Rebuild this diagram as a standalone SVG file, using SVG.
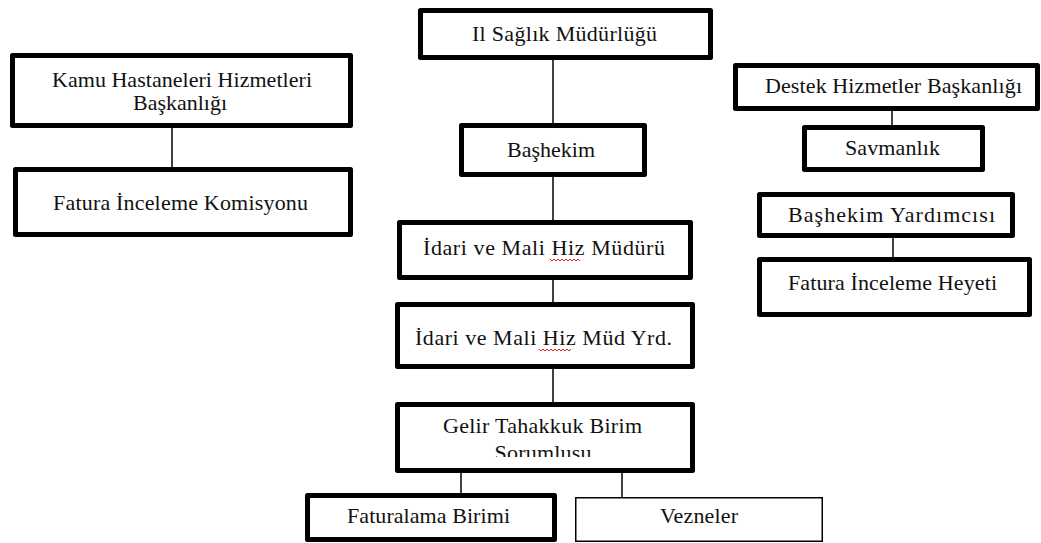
<svg xmlns="http://www.w3.org/2000/svg" width="1041" height="543" viewBox="0 0 1041 543">
<style>
.box{fill:#fff;stroke:#000;stroke-width:5;stroke-linejoin:round}
.thin{fill:#fff;stroke:#000;stroke-width:1.5}
.t{font-family:'Liberation Serif','DejaVu Serif',serif;font-size:22px;fill:#111;text-anchor:middle}
.c{stroke:#000;stroke-width:1.5;fill:none}
.sq{stroke:#e02020;stroke-width:1;fill:none}
</style>
<defs>
<clipPath id="gclip"><rect x="400" y="404" width="290" height="53"/></clipPath>
</defs>
<rect width="1041" height="543" fill="#fff"/>
<g id="connectors">
<line class="c" x1="172" y1="128" x2="172" y2="167"/>
<line class="c" x1="553" y1="60" x2="553" y2="123"/>
<line class="c" x1="553" y1="177" x2="553" y2="220"/>
<line class="c" x1="553" y1="280" x2="553" y2="302"/>
<line class="c" x1="553" y1="369" x2="553" y2="402"/>
<line class="c" x1="461" y1="467" x2="461" y2="493"/>
<line class="c" x1="622" y1="467" x2="622" y2="497"/>
<line class="c" x1="892" y1="111" x2="892" y2="125"/>
<line class="c" x1="893" y1="238" x2="893" y2="257"/>
</g>
<g id="il-saglik">
<rect class="box" x="420.5" y="10.5" width="290" height="47"/>
<text class="t" font-family="Liberation Serif, serif" x="564.5" y="41" textLength="185" lengthAdjust="spacing">Il Sağlık Müdürlüğü</text>
</g>
<g id="kamu">
<rect class="box" x="12.5" y="55.5" width="338" height="70"/>
<text class="t" font-family="Liberation Serif, serif" x="182" y="87" textLength="260" lengthAdjust="spacing">Kamu Hastaneleri Hizmetleri</text>
<text class="t" font-family="Liberation Serif, serif" x="180" y="110" textLength="94" lengthAdjust="spacing">Başkanlığı</text>
</g>
<g id="fatura-komisyonu">
<rect class="box" x="15.5" y="169.5" width="335" height="65"/>
<text class="t" font-family="Liberation Serif, serif" x="180.5" y="210" textLength="255" lengthAdjust="spacing">Fatura İnceleme Komisyonu</text>
</g>
<g id="bashekim">
<rect class="box" x="461.5" y="125.5" width="183" height="49"/>
<text class="t" font-family="Liberation Serif, serif" x="551" y="157" textLength="88" lengthAdjust="spacing">Başhekim</text>
</g>
<g id="idari-mudur">
<rect class="box" x="399.5" y="222.5" width="291" height="55"/>
<text class="t" font-family="Liberation Serif, serif" x="544" y="255" textLength="242" lengthAdjust="spacing">İdari ve Mali Hiz Müdürü</text>
<path class="sq" d="M550 259 l2 2 l2 -2 l2 2 l2 -2 l2 2 l2 -2 l2 2 l2 -2 l2 2 l2 -2 l2 2 l2 -2 l2 2 l2 -2 l2 2"/>
</g>
<g id="idari-yrd">
<rect class="box" x="397.5" y="304.5" width="295" height="62"/>
<text class="t" font-family="Liberation Serif, serif" x="543.5" y="345" textLength="257" lengthAdjust="spacing">İdari ve Mali Hiz Müd Yrd.</text>
<path class="sq" d="M539 349 l2 2 l2 -2 l2 2 l2 -2 l2 2 l2 -2 l2 2 l2 -2 l2 2 l2 -2 l2 2 l2 -2 l2 2 l2 -2 l2 2 l2 -2"/>
</g>
<g id="gelir">
<rect class="box" x="397.5" y="404.5" width="295" height="66"/>
<text class="t" font-family="Liberation Serif, serif" x="542.5" y="433" textLength="199" lengthAdjust="spacing">Gelir Tahakkuk Birim</text>
<text class="t" font-family="Liberation Serif, serif" x="543" y="460" clip-path="url(#gclip)" textLength="97" lengthAdjust="spacing">Sorumlusu</text>
</g>
<g id="faturalama">
<rect class="box" x="307.5" y="495.5" width="247" height="44"/>
<text class="t" font-family="Liberation Serif, serif" x="428.5" y="523" textLength="163" lengthAdjust="spacing">Faturalama Birimi</text>
</g>
<g id="vezneler">
<rect class="thin" x="575.75" y="497.75" width="246.5" height="43.5"/>
<text class="t" font-family="Liberation Serif, serif" x="699" y="523" textLength="78" lengthAdjust="spacing">Vezneler</text>
</g>
<g id="destek">
<rect class="box" x="735.5" y="65.5" width="302" height="43"/>
<text class="t" font-family="Liberation Serif, serif" x="893.5" y="93" textLength="257" lengthAdjust="spacing">Destek Hizmetler  Başkanlığı</text>
</g>
<g id="savmanlik">
<rect class="box" x="804.5" y="127.5" width="178" height="42"/>
<text class="t" font-family="Liberation Serif, serif" x="892.5" y="155" textLength="95" lengthAdjust="spacing">Savmanlık</text>
</g>
<g id="bashekim-yrd">
<rect class="box" x="759.5" y="194.5" width="253" height="41"/>
<text class="t" font-family="Liberation Serif, serif" x="891.5" y="222" textLength="207" lengthAdjust="spacing">Başhekim Yardımcısı</text>
</g>
<g id="fatura-heyeti">
<rect class="box" x="759.5" y="259.5" width="270" height="55"/>
<text class="t" font-family="Liberation Serif, serif" x="892.5" y="290" textLength="209" lengthAdjust="spacing">Fatura İnceleme Heyeti</text>
</g>
</svg>
